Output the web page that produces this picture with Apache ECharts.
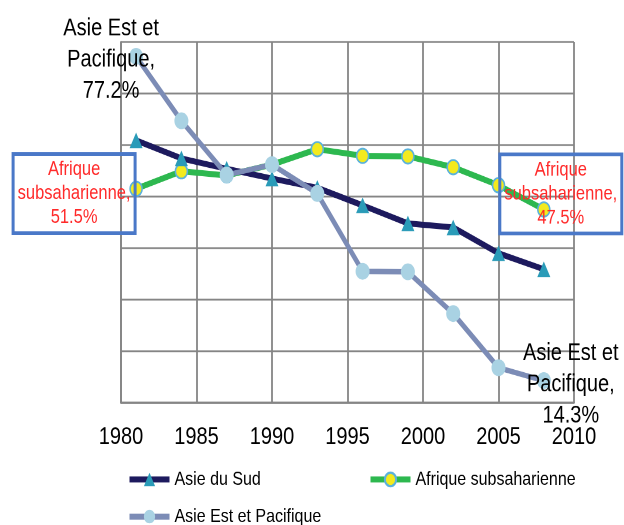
<!DOCTYPE html>
<html lang="fr">
  <head>
    <meta charset="UTF-8" />
    <title>chart</title>
    <style>
      html, body { margin: 0; padding: 0; background: #fff; width: 624px; height: 525px; }
      /* the reference is slightly stretched vertically */
      #main {
        width: 624px;
        height: 438px;
        transform: scaleY(1.1986);
        transform-origin: 0 0;
      }
    </style>
  </head>
  <body>
    <div id="main"></div>
  </body>
  <script src="https://cdn.jsdelivr.net/npm/echarts@6/dist/echarts.min.js"></script>
  <script>
    /* globals echarts */

    var years = [1981, 1984, 1987, 1990, 1993, 1996, 1999, 2002, 2005, 2008];
    var xTicks = [1980, 1985, 1990, 1995, 2000, 2005, 2010];
    var asieSud = [60.9, 57.4, 55.4, 53.5, 51.7, 48.3, 44.8, 44.0, 39.0, 35.9];
    var afrique = [51.5, 54.9, 54.1, 56.2, 59.2, 57.9, 57.8, 55.7, 52.2, 47.5];
    var asieEst = [77.2, 64.7, 54.2, 56.2, 50.6, 35.5, 35.4, 27.3, 16.8, 14.3];

    var font = "Liberation Sans, Arial, sans-serif";

    function pairs(values) {
      return values.map(function (v, i) {
        return [years[i], v];
      });
    }

    var boxLabel = {
      show: true,
      position: "inside",
      align: "center",
      verticalAlign: "middle",
      color: "#ff2a2a",
      fontSize: 16.5,
      lineHeight: 20,
      fontFamily: font,
      width: 114,
      padding: [3, 4],
      borderColor: "#4a78c8",
      borderWidth: 1.5,
      backgroundColor: "transparent",
      formatter: function (p) {
        return "Afrique\nsubsaharienne,\n" + p.value[1] + "%";
      }
    };

    var blackLabel = {
      show: true,
      position: "inside",
      align: "center",
      verticalAlign: "middle",
      color: "#000",
      fontSize: 20,
      lineHeight: 26,
      fontFamily: font,
      formatter: function (p) {
        return "Asie Est et\nPacifique,\n" + p.value[1] + "%";
      }
    };

    var afriqueData = pairs(afrique);
    afriqueData[0] = { value: afriqueData[0], label: Object.assign({}, boxLabel, { offset: [-62, 4] }) };
    afriqueData[9] = { value: afriqueData[9], label: Object.assign({}, boxLabel, { offset: [17, -13] }) };

    var asieEstData = pairs(asieEst);
    asieEstData[0] = { value: asieEstData[0], label: Object.assign({}, blackLabel, { offset: [-25, 3] }) };
    asieEstData[9] = { value: asieEstData[9], label: Object.assign({}, blackLabel, { offset: [27, 3.5] }) };

    var chart = echarts.init(document.getElementById("main"), null, { devicePixelRatio: 2 });

    var legendBase = {
      padding: 0,
      itemWidth: 40,
      itemHeight: 14,
      lineStyle: { width: 5 },
      textStyle: { color: "#000", fontSize: 16, fontFamily: font }
    };

    var option = {
      animation: false,
      backgroundColor: "#fff",
      grid: { left: 121, right: 50, top: 35, bottom: 102 },
      legend: [
        Object.assign({ data: ["Asie du Sud"], left: 127, top: 392 }, legendBase),
        Object.assign({ data: ["Afrique subsaharienne"], left: 368, top: 392 }, legendBase),
        Object.assign({ data: ["Asie Est et Pacifique"], left: 127, top: 423 }, legendBase)
      ],
      xAxis: {
        type: "value",
        min: 1980,
        max: 2010,
        interval: 5,
        axisLine: { show: true, lineStyle: { color: "#858585", width: 1.8 } },
        axisTick: { show: false },
        axisLabel: {
          color: "#000",
          fontSize: 20,
          fontFamily: font,
          margin: 19,
          formatter: function (v) {
            return xTicks.indexOf(v) >= 0 ? String(v) : "";
          }
        },
        splitLine: { show: true, lineStyle: { color: "#858585", width: 1.8 } }
      },
      yAxis: {
        type: "value",
        min: 10,
        max: 80,
        interval: 10,
        axisLine: { show: true, lineStyle: { color: "#858585", width: 1.8 } },
        axisTick: { show: false },
        axisLabel: { show: false },
        splitLine: { show: true, lineStyle: { color: "#858585", width: 1.6 } }
      },
      series: [
        {
          name: "Afrique subsaharienne",
          type: "line",
          data: afriqueData,
          symbol: "circle",
          symbolSize: 12,
          lineStyle: { color: "#2db84f", width: 5 },
          itemStyle: { color: "#f3ea1e", borderColor: "#5ab2dc", borderWidth: 1.5 },
          z: 2
        },
        {
          name: "Asie du Sud",
          type: "line",
          data: pairs(asieSud),
          symbol: "triangle",
          symbolSize: 13,
          lineStyle: { color: "#1d1a5e", width: 5 },
          itemStyle: { color: "#2a9bb8" },
          z: 3
        },
        {
          name: "Asie Est et Pacifique",
          type: "line",
          data: asieEstData,
          symbol: "circle",
          symbolSize: 14,
          lineStyle: { color: "#7c8cb6", width: 4.5 },
          itemStyle: { color: "#a9d2e3" },
          z: 4
        }
      ]
    };

    chart.setOption(option);
  </script>
</html>
